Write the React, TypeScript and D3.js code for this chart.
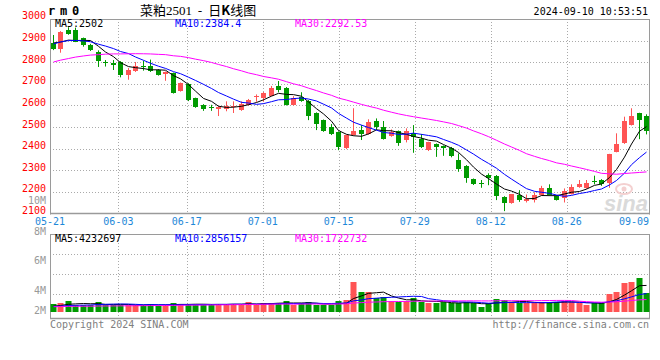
import React from "react";
import * as d3 from "d3";

// ---------- data ----------
const tickLabels = ["05-21", "06-03", "06-17", "07-01", "07-15", "07-29", "08-12", "08-26", "09-09"];
const tickIndex = [0, 9, 18, 28, 38, 48, 58, 68, 78];
const priceTicks = [2100, 2200, 2300, 2400, 2500, 2600, 2700, 2800, 2900, 3000];
const volAxisLabels = [10, 8, 6, 4, 2]; // in millions

const opens = [
  2887, 2860, 2949, 2949, 2911, 2880, 2847, 2801, 2795, 2801,
  2742, 2761, 2784, 2784, 2764, 2745, 2750, 2668, 2699, 2634,
  2603, 2593, 2585, 2585, 2592, 2579, 2603, 2638, 2636, 2645,
  2690, 2682, 2602, 2640, 2622, 2563, 2532, 2501, 2478, 2401,
  2463, 2486, 2468, 2528, 2499, 2458, 2481, 2440, 2471, 2444,
  2393, 2421, 2412, 2404, 2347, 2321, 2259, 2241, 2278, 2273,
  2177, 2147, 2185, 2157, 2162, 2185, 2216, 2182, 2170, 2190,
  2224, 2216, 2252, 2255, 2239, 2386, 2424, 2509, 2563, 2552,
];
const highs = [
  2926, 2944, 2962, 2960, 2914, 2885, 2855, 2810, 2810, 2805,
  2773, 2801, 2807, 2812, 2768, 2757, 2752, 2706, 2703, 2636,
  2606, 2603, 2597, 2619, 2619, 2619, 2630, 2651, 2662, 2690,
  2713, 2685, 2643, 2661, 2625, 2568, 2535, 2514, 2480, 2465,
  2587, 2509, 2536, 2540, 2528, 2489, 2484, 2494, 2509, 2468,
  2432, 2424, 2415, 2408, 2378, 2324, 2262, 2255, 2286, 2278,
  2180, 2190, 2208, 2188, 2198, 2228, 2235, 2185, 2216, 2235,
  2255, 2255, 2275, 2259, 2376, 2471, 2548, 2587, 2566, 2559,
];
const lows = [
  2856, 2844, 2927, 2893, 2872, 2852, 2778, 2780, 2764, 2730,
  2719, 2755, 2761, 2755, 2738, 2714, 2655, 2664, 2620, 2589,
  2575, 2575, 2551, 2573, 2565, 2575, 2600, 2617, 2617, 2643,
  2661, 2600, 2600, 2617, 2532, 2486, 2478, 2463, 2393, 2398,
  2460, 2440, 2465, 2486, 2442, 2455, 2413, 2429, 2381, 2403,
  2389, 2362, 2367, 2360, 2293, 2242, 2232, 2219, 2231, 2162,
  2111, 2145, 2154, 2151, 2151, 2182, 2182, 2160, 2151, 2188,
  2219, 2214, 2235, 2228, 2219, 2383, 2422, 2507, 2444, 2466,
];
const closes = [
  2860, 2941, 2930, 2895, 2880, 2856, 2807, 2798, 2788, 2741,
  2765, 2782, 2778, 2758, 2742, 2755, 2657, 2704, 2625, 2591,
  2585, 2590, 2591, 2597, 2597, 2606, 2626, 2642, 2659, 2682,
  2671, 2602, 2636, 2622, 2551, 2514, 2481, 2468, 2406, 2463,
  2481, 2468, 2523, 2501, 2444, 2478, 2427, 2481, 2452, 2406,
  2430, 2406, 2401, 2368, 2308, 2262, 2235, 2239, 2265, 2180,
  2147, 2188, 2162, 2165, 2185, 2216, 2185, 2162, 2204, 2224,
  2235, 2239, 2249, 2235, 2374, 2420, 2526, 2552, 2532, 2480,
];
// volume in millions
const volumes = [
  1.25, 1.47, 1.75, 1.08, 1.08, 1.08, 1.58, 1.08, 1.08, 1.08,
  1.08, 1.08, 1.08, 1.25, 0.92, 1.08, 1.42, 1.25, 1.25, 1.08,
  1.08, 1.25, 1.25, 1.25, 1.25, 1.08, 1.58, 1.08, 1.42, 1.42,
  1.42, 1.75, 1.08, 1.42, 1.58, 1.08, 1.08, 1.08, 1.75, 1.92,
  4.97, 3.25, 3.25, 2.25, 2.42, 1.75, 1.58, 1.75, 2.25, 1.58,
  1.37, 1.42, 1.58, 1.37, 1.37, 1.58, 1.37, 0.80, 1.37, 2.08,
  1.92, 1.58, 1.37, 1.37, 1.37, 1.58, 1.58, 1.58, 1.75, 1.58,
  1.37, 1.08, 1.37, 1.37, 2.92, 3.25, 4.80, 4.92, 5.63, 3.13,
];
// sessions before 05-21 (only feed the moving averages)
const priorCloses = [
  2688, 2702, 2695, 2720, 2738, 2746, 2730, 2752, 2741, 2749,
  2768, 2790, 2781, 2799, 2797, 2812, 2785, 2806, 2798, 2793,
  2843, 2868, 2887, 2902, 2895, 2921, 2884, 2905, 2876,
];
const priorVolumes = [
  0.72, 0.81, 0.77, 0.69, 0.85, 0.74, 0.79, 0.83, 0.71, 0.76,
  0.88, 0.73, 0.80, 0.78, 0.70, 0.86, 0.75, 0.82, 0.77, 0.73,
  0.90, 0.79, 0.74, 0.81, 0.76, 0.84, 0.78, 0.72, 0.80,
];
const priceMaLabels = ["MA5:2502", "MA10:2384.4", "MA30:2292.53"];
const volMaLabels = ["MA5:4232697", "MA10:2856157", "MA30:1722732"];
const maPeriods = [5, 10, 30];
const maColors = ["#000000", "#0000ff", "#ff00ff"];

// ---------- helpers ----------
function movingAvg(prior: number[], vals: number[], n: number) {
  const all = prior.concat(vals);
  return vals.map((_, i) => {
    const k = prior.length + i;
    const s = all.slice(Math.max(0, k - n + 1), k + 1);
    return d3.mean(s) as number;
  });
}

const RED = "#ff5454";
const GREEN = "#009a00";
const GRID = "#aaaaaa";
const BORDER = "#9a9a9a";
const MONO = "DejaVu Sans Mono, monospace";

export default function App() {
  const L = 50, R = 649;
  const pTop = 19, pBot = 213.5;
  const vTop = 234, vBot = 318, vZero = 311.5;
  const idx = d3.range(closes.length);

  const xBand = d3.scaleBand<number>().domain(idx).range([49, 650]);
  const xc = (i: number) => Math.round((xBand(i) as number) + xBand.bandwidth() / 2);
  const xTick = d3.scaleLinear().domain([0, 79]).range([50, 650.4]);
  const y = d3.scaleLinear().domain([2100, 3000]).range([pBot, pTop]);
  const yv = d3.scaleLinear().domain([0, 13]).range([vZero, vZero - 13 * 6]);
  const volLabelY = d3.scaleLinear().domain([4, 10]).range([294, 203.5]);
  const volGrid = d3.scaleLinear().domain([0, 4]).range([vBot - 3.5, vTop]);

  const priceMA = maPeriods.map((n) => movingAvg(priorCloses, closes, n));
  const volMA = maPeriods.map((n) => movingAvg(priorVolumes, volumes, n));
  const line = d3.line<number>().x((_, i) => xc(i) + 0.5).y((v) => y(v));
  const vline = d3.line<number>().x((_, i) => xc(i) + 0.5).y((v) => yv(v));

  return (
    <svg width={660} height={360} style={{ position: "absolute", left: 0, top: 0, background: "#fff" }}>
      {/* header */}
      <text x={48} y={15} fontFamily={MONO} fontWeight="bold" fontSize={12} letterSpacing={4.8}>rm0</text>
      <text x={140} y={15} fontFamily="Noto Sans CJK SC" fontSize={13} style={{ whiteSpace: "pre" }}>
        菜粕<tspan fontFamily="Liberation Serif" fontSize={13}>2501</tspan>
        <tspan>{"  -  "}</tspan>日<tspan fontWeight="bold">K</tspan>线图
      </text>
      <text x={648} y={15} textAnchor="end" fontFamily={MONO} fontSize={10}>2024-09-10 10:53:51</text>

      {/* price grid */}
      {priceTicks.filter((t) => t > 2100 && t < 3000).map((t) => (
        <line key={t} x1={L} x2={R} y1={Math.round(y(t)) + 0.5} y2={Math.round(y(t)) + 0.5} stroke={GRID} strokeDasharray="1,2" />
      ))}
      {tickIndex.slice(1, -1).map((ti) => (
        <line key={ti} x1={Math.round(xTick(ti)) + 0.5} x2={Math.round(xTick(ti)) + 0.5} y1={pTop} y2={pBot} stroke={GRID} strokeDasharray="1,2" />
      ))}
      {/* price panel border */}
      <line x1={L} x2={R + 1} y1={pTop + 0.5} y2={pTop + 0.5} stroke={BORDER} />
      <line x1={L + 0.5} x2={L + 0.5} y1={pTop} y2={pBot + 1} stroke={BORDER} />
      <line x1={R + 0.5} x2={R + 0.5} y1={pTop} y2={pBot + 1} stroke={BORDER} />
      <line x1={L} x2={R + 1} y1={pBot} y2={pBot} stroke={BORDER} strokeWidth={1.5} />

      {/* price labels */}
      {priceTicks.map((t) => (
        <text key={t} x={46} y={y(t) + (t === 3000 ? -0.5 : 0.5)} textAnchor="end" fill="#ff0000" fontFamily={MONO} fontSize={10}>{t}</text>
      ))}
      {/* volume labels */}
      {volAxisLabels.map((v) => (
        <text key={v} x={46} y={Math.min(volLabelY(v), 314) + (v === 8 ? 1 : 0)} textAnchor="end" fill="#999" fontFamily={MONO} fontSize={10}>{v}M</text>
      ))}

      {/* watermark */}
      <g opacity={0.9}>
        <ellipse cx={624} cy={189} rx={8} ry={5} fill="none" stroke="#f3cccc" strokeWidth={2} />
        <circle cx={624} cy={189} r={2.5} fill="#f3cccc" />
        <text x={648} y={211} textAnchor="end" fontFamily="Liberation Sans" fontStyle="italic" fontWeight="bold" fontSize={22} fill="#d6d6d6">sina</text>
      </g>

      {/* candles */}
      {idx.map((i) => {
        const up = closes[i] >= opens[i];
        const col = up ? RED : GREEN;
        const cx = xc(i);
        const top = Math.round(y(Math.max(opens[i], closes[i])));
        const bot = Math.round(y(Math.min(opens[i], closes[i])));
        return (
          <g key={i}>
            <line x1={cx + 0.5} x2={cx + 0.5} y1={y(highs[i])} y2={y(lows[i])} stroke={col} />
            <rect x={cx - 2} y={top} width={5} height={Math.max(1, bot - top)} fill={col} />
          </g>
        );
      })}
      {/* price MAs */}
      {priceMA.map((m, k) => (
        <path key={k} d={line(m) as string} fill="none" stroke={maColors[k]} strokeWidth={1} />
      ))}
      {priceMaLabels.map((s, k) => (
        <text key={s} x={55 + k * 120} y={26.5} fill={maColors[k]} fontFamily={MONO} fontSize={10}>{s}</text>
      ))}

      {/* x labels */}
      {tickIndex.map((ti, k) => (
        <text key={ti} x={k === tickIndex.length - 1 ? 649 : xTick(ti)} y={224.5} textAnchor={k === tickIndex.length - 1 ? "end" : "middle"} fill="#1e88d8" fontFamily={MONO} fontSize={10}>{tickLabels[k]}</text>
      ))}

      {/* volume grid */}
      {[1, 2, 3].map((g) => (
        <line key={g} x1={L} x2={R} y1={Math.round(volGrid(g)) + 0.5} y2={Math.round(volGrid(g)) + 0.5} stroke={GRID} strokeDasharray="1,2" />
      ))}
      {tickIndex.slice(1, -1).map((ti) => (
        <line key={ti} x1={Math.round(xTick(ti)) + 0.5} x2={Math.round(xTick(ti)) + 0.5} y1={vTop} y2={vBot + 3} stroke={GRID} strokeDasharray="1,2" />
      ))}
      <line x1={L} x2={R + 1} y1={vTop + 0.5} y2={vTop + 0.5} stroke={BORDER} />
      <line x1={L + 0.5} x2={L + 0.5} y1={vTop} y2={vBot + 1} stroke={BORDER} />
      <line x1={R + 0.5} x2={R + 0.5} y1={vTop} y2={vBot + 1} stroke={BORDER} />
      <line x1={L} x2={R + 1} y1={vBot + 0.5} y2={vBot + 0.5} stroke={BORDER} strokeWidth={1.5} />

      {/* volume bars */}
      {idx.map((i) => {
        const up = closes[i] >= opens[i];
        const top = Math.round(yv(volumes[i]));
        return <rect key={i} x={xc(i) - 2.5} y={top} width={6} height={Math.round(vZero) - top} fill={up ? RED : GREEN} />;
      })}
      {volMA.map((m, k) => (
        <path key={k} d={vline(m) as string} fill="none" stroke={maColors[k]} strokeWidth={1} />
      ))}
      {volMaLabels.map((s, k) => (
        <text key={s} x={55 + k * 120} y={241.5} fill={maColors[k]} fontFamily={MONO} fontSize={10}>{s}</text>
      ))}

      {/* footer */}
      <text x={50} y={327.5} fill="#808080" fontFamily={MONO} fontSize={10}>Copyright 2024 SINA.COM</text>
      <text x={649} y={327.5} textAnchor="end" fill="#808080" fontFamily={MONO} fontSize={10}>http://finance.sina.com.cn</text>
    </svg>
  );
}
